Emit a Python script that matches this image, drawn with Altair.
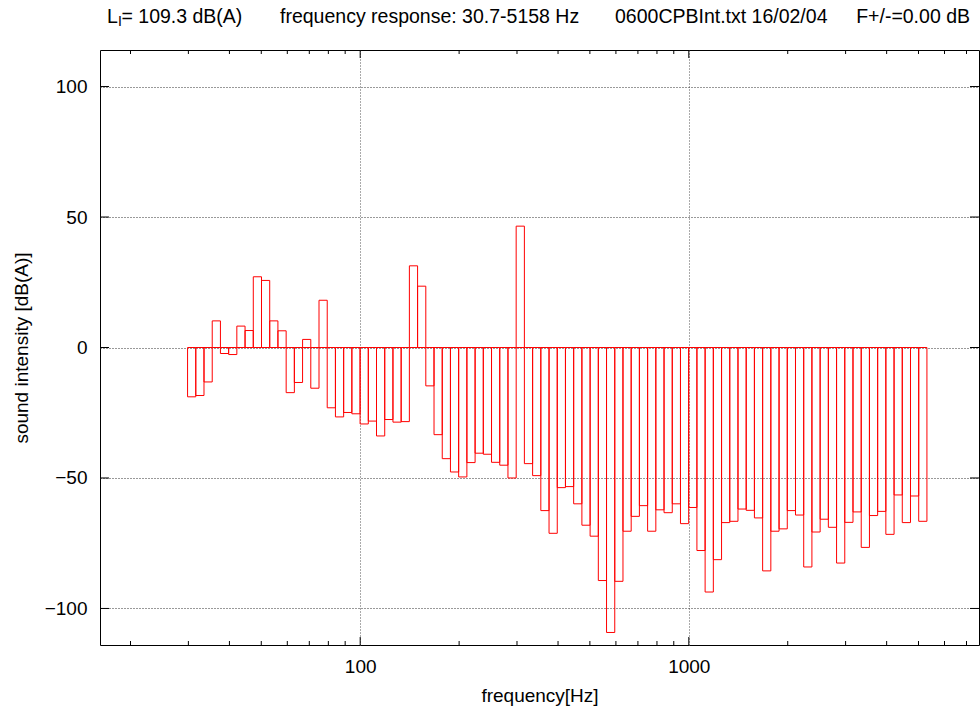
import altair as alt
import pandas as pd

# 1/12-octave band centre frequencies [Hz]
freq_hz = [
    30.70, 32.52, 34.45, 36.49, 38.65, 40.94, 43.36, 45.93, 48.66, 51.54,
    54.59, 57.83, 61.26, 64.88, 68.73, 72.80, 77.12, 81.68, 86.52, 91.65,
    97.08, 102.84, 108.93, 115.38, 122.22, 129.46, 137.13, 145.26, 153.87, 162.98,
    172.64, 182.87, 193.70, 205.18, 217.34, 230.22, 243.86, 258.31, 273.61, 289.83,
    307.0, 325.2, 344.5, 364.9, 386.5, 409.4, 433.6, 459.3, 486.6, 515.4,
    545.9, 578.3, 612.6, 648.8, 687.3, 728.0, 771.2, 816.8, 865.2, 916.5,
    970.8, 1028.4, 1089.3, 1153.8, 1222.2, 1294.6, 1371.3, 1452.6, 1538.7, 1629.8,
    1726.4, 1828.7, 1937.0, 2051.8, 2173.4, 2302.2, 2438.6, 2583.1, 2736.1, 2898.3,
    3070.0, 3252.0, 3445.0, 3649.0, 3865.0, 4094.0, 4336.0, 4593.0, 4866.0, 5154.0,
]

# sound intensity per band [dB(A)]
level_db = [
    -18.9, -18.4, -13.2, 10.2, -2.3, -2.7, 8.2, 6.5, 27.1, 25.7,
    10.2, 6.4, -17.3, -13.4, 3.1, -15.6, 18.1, -23.1, -26.6, -24.9,
    -25.4, -29.3, -28.2, -33.9, -27.6, -28.6, -28.4, 31.3, 23.5, -14.7,
    -33.4, -42.6, -47.7, -49.6, -44.1, -40.5, -40.9, -44.0, -45.1, -50.0,
    46.5, -44.5, -49.1, -62.5, -71.2, -53.7, -53.3, -59.9, -68.1, -72.3,
    -89.3, -109.2, -89.6, -70.4, -64.7, -60.6, -70.4, -62.2, -63.3, -59.9,
    -67.5, -61.3, -77.8, -93.7, -81.3, -67.1, -66.6, -61.9, -62.4, -65.3,
    -85.6, -70.4, -69.5, -62.5, -64.2, -84.1, -70.7, -65.8, -68.9, -82.6,
    -67.0, -63.0, -76.6, -64.4, -62.8, -71.6, -56.5, -67.1, -56.9, -66.6,
]

y_ticks = [-100, -50, 0, 50, 100]
x_major = [100, 1000]
x_minor = [20, 30, 40, 50, 60, 70, 80, 90,
           200, 300, 400, 500, 600, 700, 800, 900,
           2000, 3000, 4000, 5000, 6000, 7000]

title_parts = {
    "L": "L",
    "sub": "I",
    "lev": "= 109.3 dB(A)",
    "resp": "frequency response: 30.7-5158 Hz",
    "file": "0600CPBInt.txt 16/02/04",
    "f": "F+/-=0.00 dB",
}

W, H = 879, 595
FONT = "Liberation Sans"
FS = 19
TFS = 19.5
half_band = 10 ** (1 / 80)

df = pd.DataFrame({"f": freq_hz, "v": level_db})
df["lo"] = df["f"] / half_band
df["hi"] = df["f"] * half_band
df["z"] = 0.0

xscale = alt.Scale(type="log", domain=[16.15, 7640], nice=False)
yscale = alt.Scale(domain=[-114, 114], nice=False, zero=False)

xaxis = alt.Axis(
    values=x_major, format="d", ticks=False, domain=False,
    grid=True, gridDash=[1, 2], gridColor="#555", gridWidth=1,
    labelFont=FONT, labelFontSize=FS, labelColor="black", labelPadding=12,
    title="frequency[Hz]", titleFont=FONT, titleFontSize=FS,
    titleFontWeight="normal", titleColor="black",
    titleX=W / 2, titleY=50, titleBaseline="middle", titleAlign="center")
yaxis = alt.Axis(
    values=y_ticks, ticks=False, domain=False,
    grid=True, gridDash=[1, 2], gridColor="#333", gridWidth=1,
    labelFont=FONT, labelFontSize=FS, labelColor="black", labelPadding=13,
    title="sound intensity [dB(A)]", titleFont=FONT, titleFontSize=FS,
    titleFontWeight="normal", titleColor="black", titleAngle=270,
    titleX=-79, titleY=H / 2, titleBaseline="middle", titleAlign="center")

bars = alt.Chart(df).mark_rect(
    fill="white", fillOpacity=0, stroke="#ff0000", strokeWidth=1
).encode(
    x=alt.X("lo:Q", scale=xscale, axis=xaxis),
    x2="hi:Q",
    y=alt.Y("v:Q", scale=yscale, axis=yaxis),
    y2="z:Q",
)

maj_df = pd.DataFrame({"t": x_major})
min_df = pd.DataFrame({"t": x_minor})
yt_df = pd.DataFrame({"t": y_ticks})

def xtick(data, y0, y1):
    return alt.Chart(data).mark_rule(color="black", strokeWidth=1).encode(
        x=alt.X("t:Q", scale=xscale, axis=xaxis),
        y=alt.value(y0), y2=alt.value(y1))

def ytick(x0, x1):
    return alt.Chart(yt_df).mark_rule(color="black", strokeWidth=1).encode(
        y=alt.Y("t:Q", scale=yscale, axis=yaxis),
        x=alt.value(x0), x2=alt.value(x1))

ticks = [
    xtick(maj_df, H, H - 8), xtick(maj_df, 0, 8),
    xtick(min_df, H, H - 4), xtick(min_df, 0, 4),
    ytick(0, 9), ytick(W, W - 9),
]

def label(text, x, y, size=TFS, align="left"):
    return alt.Chart(alt.Data(values=[{"k": 1}])).mark_text(
        text=text, font=FONT, fontSize=size, color="black",
        align=align, baseline="middle").encode(
        x=alt.value(x), y=alt.value(y))

titles = [
    label(title_parts["L"], 7, -33),
    label(title_parts["sub"], 18, -28, size=14),
    label(title_parts["lev"], 21.5, -33),
    label(title_parts["resp"], 180, -33),
    label(title_parts["file"], 515, -33),
    label(title_parts["f"], 870, -33, align="right"),
]

chart = alt.layer(bars, *ticks, *titles).properties(
    width=W, height=H,
    autosize=alt.AutoSizeParams(type="none"),
    padding={"left": 100, "top": 50, "right": 1, "bottom": 63},
    background="white",
).configure_view(stroke="black", strokeWidth=1)

chart.save("out.html", embed_options={"renderer": "svg", "actions": False})
